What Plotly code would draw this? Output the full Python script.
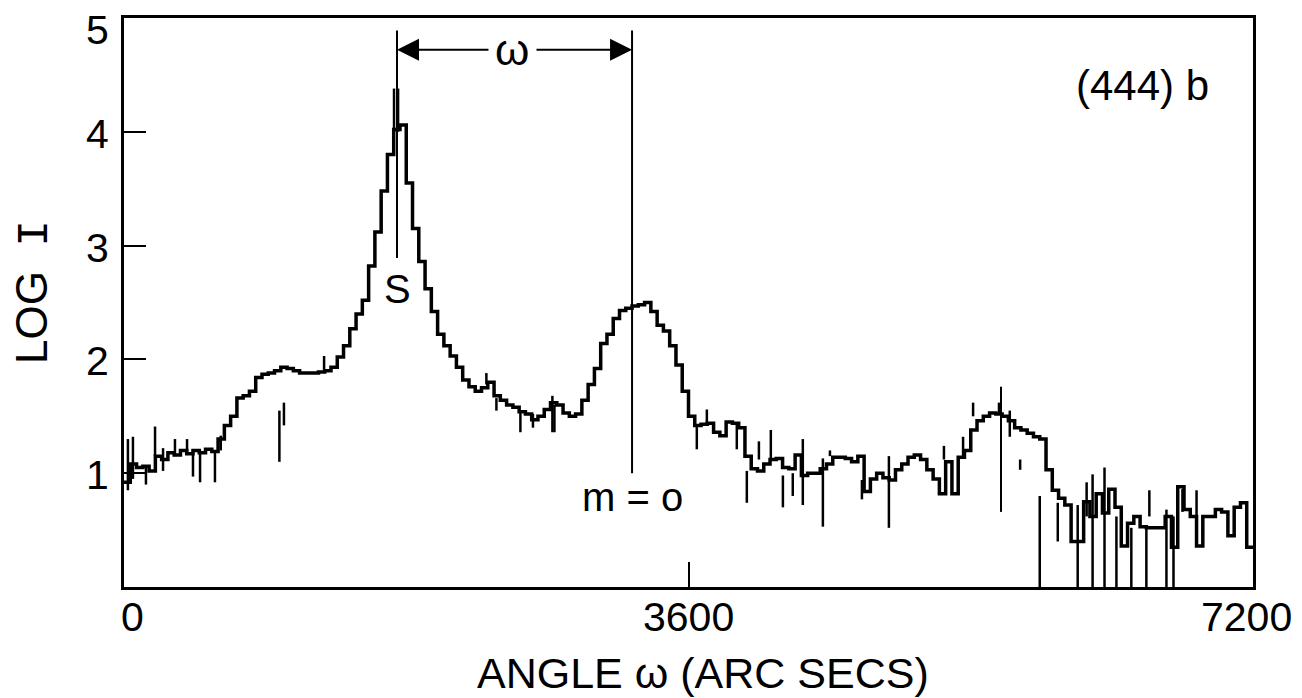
import plotly.graph_objects as go

# ---- data ----
step_arcsec = 40
log_i = [
    0.92, 1.08, 1.05, 1.06, 1.02, 1.15, 1.12, 1.18, 1.16, 1.20,
    1.17, 1.20, 1.18, 1.21, 1.19, 1.30, 1.42, 1.50, 1.66, 1.68,
    1.72, 1.84, 1.87, 1.88, 1.90, 1.93, 1.92, 1.90, 1.88, 1.88,
    1.88, 1.89, 1.90, 1.93, 2.02, 2.12, 2.27, 2.40, 2.52, 2.82,
    3.12, 3.48, 3.80, 4.02, 4.06, 3.55, 3.15, 2.86, 2.62, 2.42,
    2.22, 2.12, 2.03, 1.93, 1.82, 1.76, 1.72, 1.75, 1.80, 1.68,
    1.64, 1.60, 1.58, 1.54, 1.52, 1.47, 1.50, 1.56, 1.62, 1.60,
    1.53, 1.50, 1.52, 1.64, 1.78, 1.92, 2.14, 2.22, 2.36, 2.43,
    2.45, 2.47, 2.48, 2.50, 2.42, 2.30, 2.25, 2.12, 1.95, 1.72,
    1.50, 1.42, 1.43, 1.44, 1.36, 1.33, 1.45, 1.44, 1.40, 1.15,
    1.04, 1.02, 1.08, 1.12, 1.13, 1.05, 1.04, 1.16, 0.98, 1.00,
    1.00, 1.04, 1.08, 1.14, 1.14, 1.13, 1.10, 1.15, 0.84, 0.95,
    1.00, 0.96, 0.94, 1.03, 1.08, 1.14, 1.16, 1.12, 1.03, 0.95,
    0.82, 1.10, 0.82, 1.14, 1.20, 1.38, 1.46, 1.50, 1.53, 1.52,
    1.50, 1.46, 1.40, 1.38, 1.35, 1.32, 1.30, 1.03, 0.85, 0.78,
    0.72, 0.40, 0.40, 0.75, 0.62, 0.82, 0.65, 0.86, 0.70, 0.36,
    0.56, 0.62, 0.53, 0.52, 0.52, 0.52, 0.62, 0.35, 0.88, 0.68,
    0.62, 0.36, 0.62, 0.62, 0.68, 0.66, 0.45, 0.70, 0.74, 0.35,
    0.35,
]
angle = [i * step_arcsec for i in range(len(log_i))]

# narrow noise spikes: position (arc sec), low end, high end
spike_x = [25, 57, 140, 198, 249, 325, 402, 440, 485, 580, 617, 991,
           1020, 1276, 1722, 1748, 2311, 2375, 2528, 2608, 2732, 2745,
           3653, 3717, 3908, 3972, 4049, 4125, 4202, 4265, 4329, 4457,
           4502, 4706, 4878, 5229, 5351, 5415, 5580, 5649, 5715, 5840,
           5955, 6082, 6139, 6177, 6253, 6329, 6424, 6520, 6539, 6648,
           6693, 6750, 6840]
spike_lo = [0.85, 0.95, 0.90, 1.15, 1.02, 1.15, 1.16, 0.97, 0.92, 0.92,
            1.20, 1.10, 1.42, 1.90, 4.00, 4.00, 1.78, 1.55, 1.36, 1.40,
            1.36, 1.36, 1.21, 1.44, 1.21, 0.74, 1.12, 1.13, 0.70, 0.80,
            0.72, 0.53, 1.15, 0.77, 0.52, 1.12, 1.15, 1.50, 1.53, 1.32,
            1.03, 0.00, 0.40, 0.00, 0.62, 0.00, 0.00, 0.00, 0.00, 0.00,
            0.62, 0.00, 0.00, 0.66, 0.45]
spike_hi = [1.30, 1.32, 1.05, 1.41, 1.22, 1.30, 1.30, 1.20, 1.20, 1.20,
            1.33, 1.55, 1.62, 2.03, 4.38, 4.38, 1.88, 1.66, 1.53, 1.52,
            1.68, 1.60, 1.42, 1.56, 1.45, 1.02, 1.28, 1.38, 0.98, 1.00,
            1.30, 1.13, 1.20, 0.94, 1.15, 1.24, 1.32, 1.62, 1.62, 1.55,
            1.12, 0.80, 0.74, 0.72, 0.92, 0.99, 1.05, 0.62, 0.52, 0.52,
            0.85, 0.68, 0.62, 0.86, 0.85]

x_ticks = [0, 3600, 7200]
x_tick_labels = ["0", "3600", "7200"]
y_ticks = [1, 2, 3, 4, 5]
y_tick_labels = ["1", "2", "3", "4", "5"]

# marker lines (peak positions) and their vertical extents
marker_x = [1741, 3240, 5593]
marker_lo = [2.89, 1.00, 0.66]
marker_hi = [4.89, 4.89, 1.76]
arrow_y = 4.72

FONT = "Liberation Sans, Arial, Helvetica, sans-serif"
BLACK = "black"

# ---- figure ----
sx, sy = [], []
for x, lo, hi in zip(spike_x, spike_lo, spike_hi):
    sx += [x, x, None]
    sy += [lo, hi, None]

fig = go.Figure()
fig.add_trace(go.Scatter(x=angle, y=log_i, mode="lines",
                         line=dict(color=BLACK, width=3.5, shape="hv"),
                         hoverinfo="skip", showlegend=False))
fig.add_trace(go.Scatter(x=sx, y=sy, mode="lines",
                         line=dict(color=BLACK, width=2.5),
                         hoverinfo="skip", showlegend=False))

for x, lo, hi in zip(marker_x, marker_lo, marker_hi):
    fig.add_shape(type="line", xref="x", yref="y", x0=x, x1=x, y0=lo, y1=hi,
                  line=dict(color=BLACK, width=2))

# omega double arrow between the S and m=0 markers
fig.add_annotation(x=marker_x[0], y=arrow_y, ax=2334, ay=arrow_y,
                   xref="x", yref="y", axref="x", ayref="y", text="",
                   showarrow=True, arrowhead=2, arrowsize=2.2, arrowwidth=2,
                   arrowcolor=BLACK)
fig.add_annotation(x=marker_x[1], y=arrow_y, ax=2621, ay=arrow_y,
                   xref="x", yref="y", axref="x", ayref="y", text="",
                   showarrow=True, arrowhead=2, arrowsize=2.2, arrowwidth=2,
                   arrowcolor=BLACK)
fig.add_annotation(x=2474, y=arrow_y, xref="x", yref="y", text="ω",
                   xanchor="center", yanchor="middle",
                   showarrow=False, font=dict(family=FONT, size=44, color=BLACK))

fig.add_annotation(x=marker_x[0], y=2.62, xref="x", yref="y", text="S",
                   xanchor="center", yanchor="middle",
                   showarrow=False, font=dict(family=FONT, size=40, color=BLACK))
fig.add_annotation(x=marker_x[1], y=0.79, xref="x", yref="y", text="m = o",
                   xanchor="center", yanchor="middle",
                   showarrow=False, font=dict(family=FONT, size=40, color=BLACK))
fig.add_annotation(x=0.902, y=0.882, xref="paper", yref="paper", text="(444) b",
                   xanchor="center", yanchor="middle",
                   showarrow=False, font=dict(family=FONT, size=42, color=BLACK))

# tick labels
x_shift = [8, 0, -7]
for v, t, s in zip(x_ticks, x_tick_labels, x_shift):
    fig.add_annotation(x=v, y=-0.0527, xref="x", yref="paper", text=t,
                       xanchor="center", yanchor="middle", xshift=s,
                       showarrow=False, font=dict(family=FONT, size=41, color=BLACK))
for v, t in zip(y_ticks, y_tick_labels):
    fig.add_annotation(x=-0.0239, y=v, xref="paper", yref="y", text=t,
                       xanchor="center", yanchor="middle", height=36,
                       yshift=(-12 if v == y_ticks[-1] else -2),
                       showarrow=False, font=dict(family=FONT, size=41, color=BLACK))

# axis titles
fig.add_annotation(x=0.513, y=-0.151, xref="paper", yref="paper",
                   text="ANGLE ω (ARC SECS)", showarrow=False,
                   xanchor="center", yanchor="middle",
                   font=dict(family=FONT, size=43, color=BLACK))
fig.add_annotation(x=-0.0800, y=0.518, xref="paper", yref="paper",
                   text="LOG&nbsp; <span style='font-family:Liberation Mono'>I</span>",
                   textangle=-90, showarrow=False, height=38,
                   xanchor="center", yanchor="middle",
                   font=dict(family=FONT, size=44, color=BLACK))

# the page places the figure 8 px from the top-left corner
fig.update_layout(
    width=1294, height=690,
    margin=dict(l=116, r=49, t=10, b=111, autoexpand=False),
    paper_bgcolor="white", plot_bgcolor="white",
    font=dict(family=FONT, color=BLACK),
)
fig.update_xaxes(range=[0, 7200], tickvals=x_ticks, showticklabels=False,
                 ticks="inside", ticklen=25, tickwidth=2, tickcolor=BLACK,
                 showline=True, mirror=True, linecolor=BLACK, linewidth=2.5,
                 showgrid=False, zeroline=False, automargin=False)
fig.update_yaxes(range=[0, 5], tickvals=y_ticks, showticklabels=False,
                 ticks="inside", ticklen=22, tickwidth=2, tickcolor=BLACK,
                 showline=True, mirror=True, linecolor=BLACK, linewidth=2.5,
                 showgrid=False, zeroline=False, automargin=False)

fig.write_html("out.html")
